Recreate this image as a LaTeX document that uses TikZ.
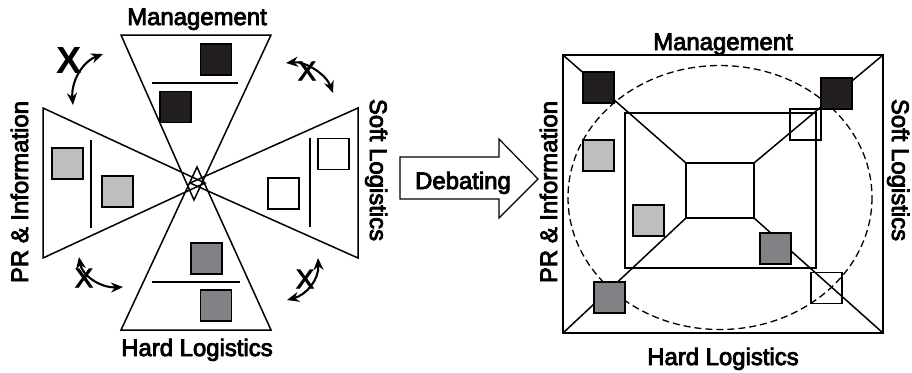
\documentclass[tikz,border=0pt]{standalone}
\usepackage{fontspec}
\setmainfont{Liberation Sans}
\newfontfamily\medfont{Liberation Sans}[FakeBold=3.5]
\usetikzlibrary{arrows.meta}
\definecolor{blk}{HTML}{231F20}
\definecolor{lgray}{HTML}{BCBEC0}
\definecolor{dgray}{HTML}{808285}
\tikzset{
  edge/.style={line width=1.5bp, line join=miter},
  sq/.style={draw, line width=1.3bp, minimum size=31bp, inner sep=0pt},
  lbl/.style={font=\fontsize{24}{24}\selectfont\medfont, inner sep=0pt},
  xmark/.style={font=\fontsize{27}{27}\selectfont\medfont, inner sep=0pt},
  bigx/.style={font=\fontsize{38}{38}\selectfont\bfseries, inner sep=0pt},
  swap/.style={line width=2.1bp, {Stealth[length=12bp,width=10bp]}-{Stealth[length=12bp,width=10bp]}},
}
\begin{document}
\begin{tikzpicture}[x=1bp,y=-1bp]
\useasboundingbox (0,0) rectangle (912,372);
% ---------- left figure ----------
\coordinate (tA) at (121,35); \coordinate (tB) at (271,35); \coordinate (tC) at (194,200);
\coordinate (bA) at (121,330); \coordinate (bB) at (271,330); \coordinate (bC) at (197,167);
\coordinate (lA) at (43,108); \coordinate (lB) at (43,258); \coordinate (lC) at (205,183);
\coordinate (rA) at (358,108); \coordinate (rB) at (358,258); \coordinate (rC) at (190,183);
\draw[edge] (tA) -- (tB) -- (tC) -- cycle;
\draw[edge] (bA) -- (bB) -- (bC) -- cycle;
\draw[edge] (lA) -- (lB) -- (lC) -- cycle;
\draw[edge] (rA) -- (rB) -- (rC) -- cycle;
\coordinate (h1a) at (152,83); \coordinate (h1b) at (238,83);
\coordinate (h2a) at (152,282); \coordinate (h2b) at (240,282);
\coordinate (v1a) at (91,140); \coordinate (v1b) at (91,228);
\coordinate (v2a) at (310,138); \coordinate (v2b) at (310,227);
\draw[edge] (h1a) -- (h1b);
\draw[edge] (h2a) -- (h2b);
\draw[edge] (v1a) -- (v1b);
\draw[edge] (v2a) -- (v2b);
\node[sq, fill=blk] (m1) at (216,59.5) {};
\node[sq, fill=blk] (m2) at (175.5,107) {};
\node[sq, fill=dgray] (h1) at (206.5,258.5) {};
\node[sq, fill=dgray] (h2) at (216,305.5) {};
\node[sq, fill=lgray] (p1) at (67.5,163.5) {};
\node[sq, fill=lgray] (p2) at (117.5,191.5) {};
\node[sq, fill=white] (s1) at (333.5,154) {};
\node[sq, fill=white] (s2) at (283.5,193.5) {};
\node[lbl, anchor=base] (lm) at (197,25) {Management};
\node[lbl, anchor=base] (lh) at (197,356) {Hard Logistics};
\node[lbl, anchor=base, rotate=90] (lp) at (28,192) {PR \& Information};
\node[lbl, anchor=base, rotate=-90] (ls) at (370,170) {Soft Logistics};
% swap arrows
\node[bigx] (x1) at (69,60) {X};
\coordinate (a1s) at (73,105); \coordinate (a1e) at (103,54);
\draw[swap] (a1s) .. controls (71,82) and (82,62) .. (a1e);
\node[xmark] (x2) at (307,71) {X};
\coordinate (a2s) at (286,63); \coordinate (a2e) at (333,93);
\draw[swap] (a2s) .. controls (305,61) and (326,74) .. (a2e);
\node[xmark] (x3) at (84,278) {X};
\coordinate (a3s) at (79,257); \coordinate (a3e) at (123,287);
\draw[swap] (a3s) .. controls (82,275) and (100,288) .. (a3e);
\node[xmark] (x4) at (305,279) {X};
\coordinate (a4s) at (318,258); \coordinate (a4e) at (287,300);
\draw[swap] (a4s) .. controls (319,280) and (306,295) .. (a4e);
% ---------- debating arrow ----------
\draw[edge, line width=1.2bp] (400,157) -- (499,157) -- (499,139) -- (538,179) -- (499,218) -- (499,199) -- (400,199) -- cycle;
\node[lbl, anchor=base] (deb) at (463,189) {Debating};
% ---------- right figure ----------
\coordinate (o1) at (563,55); \coordinate (o2) at (883,55); \coordinate (o3) at (883,333); \coordinate (o4) at (563,333);
\coordinate (i1) at (686,163); \coordinate (i2) at (754,163); \coordinate (i3) at (754,218); \coordinate (i4) at (686,218);
\draw[edge] (o1) rectangle (o3);
\draw[edge] (625,113) rectangle (816,268);
\draw[edge] (i1) rectangle (i3);
\draw[edge] (o1) -- (i1);
\draw[edge] (o2) -- (i2);
\draw[edge] (o3) -- (i3);
\draw[edge] (o4) -- (i4);
\draw[line width=1.3bp, dash pattern=on 7bp off 4bp] (720,197.5) ellipse [x radius=152, y radius=132];
\node[sq, fill=blk] (rm1) at (598.5,87.5) {};
\node[sq, fill=blk] (rm2) at (836.5,93.5) {};
\node[sq] (rs1) at (805.5,124.5) {};
\node[sq, fill=lgray] (rp1) at (598.5,155.5) {};
\node[sq, fill=lgray] (rp2) at (648.5,220.5) {};
\node[sq, fill=dgray] (rh1) at (775.5,248.5) {};
\node[sq, fill=dgray] (rh2) at (609.5,297.5) {};
\node[sq] (rs2) at (826.5,288) {};
\node[lbl, anchor=base] (rmt) at (723,50) {Management};
\node[lbl, anchor=base] (rht) at (723,365) {Hard Logistics};
\node[lbl, anchor=base, rotate=90] (rpt) at (557,192) {PR \& Information};
\node[lbl, anchor=base, rotate=-90] (rst) at (892,170) {Soft Logistics};
\end{tikzpicture}
\end{document}
